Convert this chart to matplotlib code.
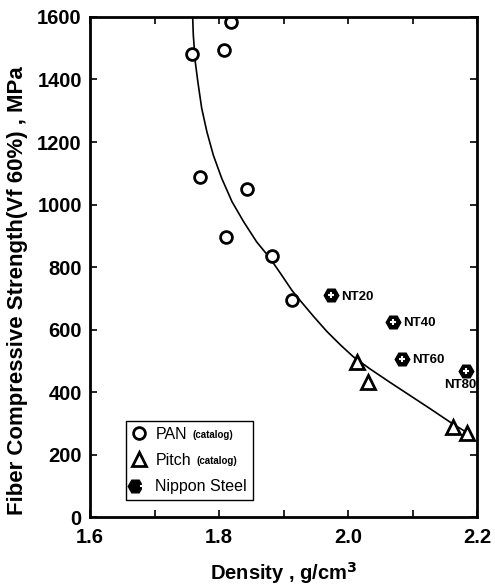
import matplotlib
matplotlib.use('Agg')
import matplotlib.pyplot as plt
from matplotlib.legend_handler import HandlerTuple

plt.rcParams['font.family'] = ['Liberation Sans', 'DejaVu Sans']

# PAN fibers (catalog)
panDensity = [1.758, 1.808, 1.819, 1.771, 1.843, 1.811, 1.882, 1.913]
panStrength = [1482, 1494, 1584, 1088, 1050, 896, 835, 694]

# Pitch fibers (catalog)
pitchDensity = [2.014, 2.031, 2.163, 2.184]
pitchStrength = [496, 432, 288, 269]

# Nippon Steel fibers
nsDensity = [1.974, 2.070, 2.084, 2.183]
nsStrength = [710, 624, 506, 467]
nsNames = ['NT20', 'NT40', 'NT60', 'NT80']

# trend curve
curveDensity = [1.759, 1.760, 1.763, 1.767, 1.773, 1.781, 1.791, 1.804, 1.820,
                1.838, 1.858, 1.879, 1.897, 1.913, 1.926, 1.946, 1.967, 1.988,
                2.008, 2.034, 2.065, 2.096, 2.127, 2.158, 2.179]
curveStrength = [1600, 1542, 1457, 1393, 1308, 1233, 1158, 1084, 1009,
                 945, 881, 828, 774, 725, 692, 643, 594, 551,
                 513, 474, 431, 389, 347, 304, 277]

fig = plt.figure(figsize=(4.95, 5.85), dpi=100)
ax = fig.add_axes([0.182, 0.116, 0.782, 0.855])

ax.plot(curveDensity, curveStrength, color='black', lw=1.2)

pan, = ax.plot(panDensity, panStrength, 'o', ms=8.5, mfc='white', mec='black', mew=2, ls='none')
pitch, = ax.plot(pitchDensity, pitchStrength, '^', ms=9.5, mfc='white', mec='black', mew=2, ls='none')
ns1, = ax.plot(nsDensity, nsStrength, 'H', ms=10.5, mfc='black', mec='black', ls='none')
ns2, = ax.plot(nsDensity, nsStrength, '+', ms=5, mec='white', mew=1.5, ls='none')

for i in range(3):
    ax.annotate(nsNames[i], (nsDensity[i], nsStrength[i]), xytext=(7, -1), textcoords='offset points',
                fontsize=9.5, fontweight='bold', va='center', ha='left')
ax.annotate(nsNames[3], (nsDensity[3], nsStrength[3]), xytext=(7, -10), textcoords='offset points',
            fontsize=9.5, fontweight='bold', va='center', ha='right')

leg = ax.legend([pan, pitch, (ns1, ns2)], ['PAN', 'Pitch', 'Nippon Steel'],
                handler_map={tuple: HandlerTuple(ndivide=None, pad=0)},
                loc='lower left', bbox_to_anchor=(0.08, 0.025), fancybox=False, edgecolor='black',
                framealpha=1, prop={'size': 11.5}, handlelength=1.0, handletextpad=0.5,
                borderpad=0.35, borderaxespad=0.3, labelspacing=0.7)
leg.get_frame().set_linewidth(1.0)
leg.set_zorder(5)
for txt in leg.get_texts()[:2]:
    ax.annotate('(catalog)', xy=(1, 0.15), xycoords=txt, xytext=(4, 0), textcoords='offset points',
                fontsize=7, fontweight='bold', va='bottom', ha='left', zorder=10)

ax.set_xlim(1.6, 2.2)
ax.set_ylim(0, 1600)
ax.set_xticks([1.6, 1.8, 2.0, 2.2])
ax.set_xticklabels(['1.6', '1.8', '2.0', '2.2'])
ax.set_xticks([1.7, 1.9, 2.1], minor=True)
ax.set_yticks(range(0, 1601, 200))
ax.tick_params(which='both', direction='in', top=True, right=True, width=1.2)
ax.tick_params(which='major', length=5, labelsize=14.5)
ax.tick_params(axis='x', which='major', pad=8)
ax.tick_params(axis='y', which='major', pad=6)
ax.tick_params(which='minor', length=5)
for lab in ax.get_xticklabels() + ax.get_yticklabels():
    lab.set_fontweight('bold')
for sp in ax.spines.values():
    sp.set_linewidth(2)

ax.set_xlabel('Density , g/cm$\\mathbf{^3}$', fontsize=14.5, fontweight='bold', labelpad=9)
ax.set_ylabel('Fiber Compressive Strength(Vf 60%) , MPa', fontsize=16, fontweight='bold')
ax.yaxis.set_label_coords(-0.16, 0.452)

fig.savefig('out.png', dpi=100)
